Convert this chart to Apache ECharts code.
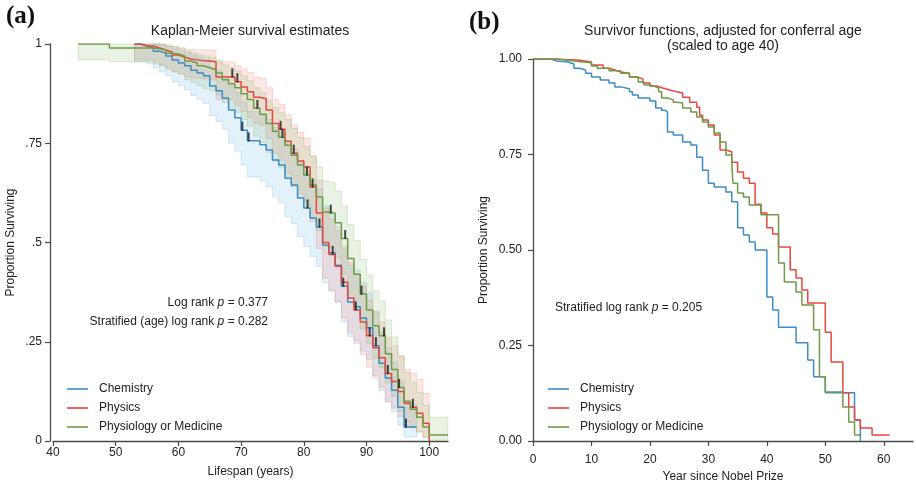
<!DOCTYPE html>
<html lang="en">
<head>
  <meta charset="UTF-8">
  <title>Survival of Nobel laureates</title>
  <script src="https://cdn.jsdelivr.net/npm/echarts@6/dist/echarts.min.js"></script>
  <style>html, body { margin: 0; background: #fff; }</style>
</head>
<body>
  <div id="chart" style="width: 916px; height: 483px;"></div>

  <script>
    // ---- (a) Kaplan-Meier by lifespan (age in years) ----
    var chemAge = [53,54,55,56,57,58,59,60,61,62,63,64,65,66,67,68,69,70,71,72,73,74,75,76,77,78,79,80,81,82,83,84,85,86,87,88,89,90,91,92,93,94,95,96,97,98];
    var chemSurv = [1,.995,.99,.982,.977,.97,.96,.952,.945,.934,
                    .927,.92,.894,.882,.864,.834,.814,.783,.756,.756,
                    .746,.733,.708,.695,.662,.645,.612,.587,.562,.539,
                    .494,.474,.443,.39,.35,.338,.31,.285,.24,.196,
                    .159,.128,.085,.035,.035,.035];
    var chemLo = [.955,.955,.95,.94,.93,.92,.905,.895,.885,.87,
                  .86,.85,.82,.805,.785,.75,.73,.695,.665,.665,
                  .655,.64,.615,.60,.565,.548,.515,.49,.465,.44,
                  .398,.378,.35,.30,.263,.252,.227,.205,.165,.128,
                  .098,.073,.04,.01,.01,.01];
    var chemHi = [1,1,1,1,.997,.993,.988,.983,.978,.972,
                  .967,.962,.942,.933,.918,.895,.878,.853,.83,.83,
                  .82,.81,.79,.78,.75,.735,.705,.68,.657,.635,
                  .592,.572,.54,.485,.443,.43,.40,.373,.325,.275,
                  .235,.198,.15,.092,.092,.092];
    var chemCens = [70.2, 71.2, 80.6, 82.5, 86.3, 91.5, 96.3];

    var physAge = [53,54,55,56,57,58,59,60,61,62,63,64,65,66,67,68,69,70,71,72,73,74,75,76,77,78,79,80,81,82,83,84,85,86,87,88,89,90,91,92,93,94,95,96,97,98,99,100];
    var physSurv = [1,.995,.995,.99,.985,.98,.972,.967,.962,.96,
                    .958,.957,.955,.917,.917,.917,.905,.892,.88,.866,
                    .862,.834,.80,.785,.755,.725,.705,.69,.64,.574,
                    .50,.47,.44,.40,.36,.33,.30,.265,.235,.21,
                    .17,.15,.125,.095,.085,.07,.045,0];
    var physLo = [.96,.96,.96,.955,.948,.94,.93,.925,.918,.915,
                  .913,.912,.91,.86,.86,.86,.845,.83,.815,.80,
                  .795,.762,.725,.708,.675,.643,.622,.605,.553,.485,
                  .41,.38,.35,.31,.272,.245,.218,.186,.158,.135,
                  .10,.083,.062,.04,.033,.024,.01,0];
    var physHi = [1,1,1,1,1,.998,.993,.99,.987,.986,
                  .985,.985,.984,.955,.955,.955,.945,.937,.928,.917,
                  .913,.89,.86,.848,.822,.795,.777,.763,.718,.657,
                  .587,.558,.53,.49,.45,.42,.39,.355,.327,.30,
                  .26,.24,.215,.18,.17,.155,.12,0];
    var physCens = [68.6, 69.4, 76.3, 78.4, 81.4, 84.6, 88.3, 90.5, 93.4, 97.4];

    var medAge = [44,45,46,47,48,49,50,51,52,53,54,55,56,57,58,59,60,61,62,63,64,65,66,67,68,69,70,71,72,73,74,75,76,77,78,79,80,81,82,83,84,85,86,87,88,89,90,91,92,93,94,95,96,97,98,99,100,101,102,103];
    var medSurv = [1,1,1,1,1,.99,.99,.99,.99,.99,
                   .99,.99,.988,.985,.977,.975,.97,.957,.952,.945,
                   .94,.935,.927,.91,.90,.89,.875,.86,.838,.823,
                   .80,.78,.765,.745,.72,.695,.67,.645,.615,.577,
                   .574,.55,.51,.46,.42,.37,.33,.29,.265,.22,
                   .18,.135,.10,.08,.06,.035,.015,.015,.015,.015];
    var medLo = [.96,.96,.96,.96,.96,.955,.955,.955,.955,.955,
                 .955,.955,.95,.945,.935,.93,.925,.91,.903,.895,
                 .888,.882,.872,.852,.84,.828,.81,.793,.768,.752,
                 .727,.705,.688,.666,.64,.613,.587,.56,.53,.49,
                 .487,.462,.42,.37,.33,.282,.245,.208,.185,.146,
                 .112,.075,.048,.034,.022,.008,.002,.002,.002,.002];
    var medHi = [1,1,1,1,1,1,1,1,1,1,
                 1,1,1,1,.995,.994,.99,.982,.978,.973,
                 .97,.966,.96,.947,.94,.932,.92,.908,.89,.877,
                 .857,.84,.827,.81,.787,.765,.742,.718,.69,.655,
                 .652,.63,.592,.545,.505,.457,.418,.378,.352,.305,
                 .262,.213,.172,.148,.122,.09,.06,.06,.06,.06];
    var medCens = [72.6, 76.6, 80.5, 84.3, 86.6, 89.2, 92.8, 95.2];

    // ---- (b) adjusted survivor functions, years since prize ----
    var chemYr = [0,3,4,6,7,8,9,10,11.5,13,14,15,16.5,17,18,20,21,22,22.6,23,24,25.6,27,28,29,30,31,33,34,35,36,37,38,40,41,42,45,47,48,50,55,56];
    var chemAdj = [1,.995,.992,.987,.976,.971,.963,.953,.945,.937,
                   .927,.922,.914,.906,.898,.89,.872,.866,.861,.809,
                   .801,.783,.775,.743,.709,.675,.665,.652,.626,.558,
                   .539,.521,.50,.377,.343,.298,.257,.212,.168,.126,
                   .055,0];
    var physYr = [0,4,8,10,12,13,14,15,16.5,17.8,18.8,20,21.2,22.2,23.4,24.6,25.6,26.8,28,28.5,29,30,31,32,33,34,35,36,37,38,39,40,41,42,44,45,46,47,50,51,53,54,55,56,58,61];
    var physAdj = [1,.997,.992,.984,.976,.971,.966,.963,.953,.948,
                   .937,.929,.924,.919,.914,.911,.90,.887,.874,.853,
                   .84,.827,.801,.762,.757,.73,.704,.688,.675,.62,
                   .597,.558,.542,.508,.448,.427,.395,.361,.285,.207,
                   .126,.089,.055,.034,.016,.016];
    var medYr = [0,4,6,8.5,10,11,13,15,16.5,18,19,20,21,21.5,22,23,24,24.6,25.6,27,28,29,30,31,32,33,34,34.2,35,36,37,39,42,43,45,46,48,49,50,53,54,55,56];
    var medAdj = [1,.997,.992,.99,.982,.976,.969,.963,.953,.94,
                  .932,.927,.924,.914,.898,.893,.887,.885,.872,.861,
                  .848,.835,.822,.806,.783,.749,.728,.675,.649,.639,
                  .618,.592,.466,.416,.39,.356,.291,.168,.128,.089,
                  .05,.016,.016];

    var groups = ['Chemistry', 'Physics', 'Physiology or Medicine'];
    var lifeTicks = [40, 50, 60, 70, 80, 90, 100];
    var yearTicks = [0, 10, 20, 30, 40, 50, 60];

    var FONT = '"Liberation Sans", Arial, sans-serif';
    var colChem = '#3a8dc8', colPhys = '#e5483a', colMed = '#6e9c47';

    function pairs(xs, ys) {
      return xs.map(function (x, i) { return [x, ys[i]]; });
    }

    // value of a step function at x
    function survAt(xs, ys, x) {
      var v = ys[0];
      for (var i = 0; i < xs.length; i++) { if (xs[i] <= x) v = ys[i]; }
      return v;
    }

    function band(xs, lo, hi, fill, edge) {
      return {
        type: 'custom', xAxisIndex: 0, yAxisIndex: 0, silent: true, z: 1,
        data: [[xs[0], lo[0]]],
        renderItem: function (params, api) {
          var pts = [];
          for (var i = 0; i < xs.length - 1; i++) {
            pts.push(api.coord([xs[i], hi[i]]));
            pts.push(api.coord([xs[i + 1], hi[i]]));
          }
          for (var j = xs.length - 2; j >= 0; j--) {
            pts.push(api.coord([xs[j + 1], lo[j]]));
            pts.push(api.coord([xs[j], lo[j]]));
          }
          return { type: 'polygon', shape: { points: pts }, style: { fill: fill, stroke: edge, lineWidth: 0.8 } };
        }
      };
    }

    function stepLine(name, data, color, idx) {
      return {
        name: name, type: 'line', step: 'end', symbol: 'none', z: 3,
        xAxisIndex: idx, yAxisIndex: idx, data: data,
        lineStyle: { color: color, width: 1.5 }, itemStyle: { color: color }
      };
    }

    function censors(xs, ys, ages) {
      return {
        type: 'scatter', xAxisIndex: 0, yAxisIndex: 0, z: 4, silent: true,
        symbol: 'rect', symbolSize: [2, 9], symbolOffset: [0, -4],
        itemStyle: { color: '#1a1a1a' },
        data: ages.map(function (a) { return [a, survAt(xs, ys, a)]; })
      };
    }

    var axisTxt = { color: '#222', fontSize: 12, fontFamily: FONT };
    var axisLn = { lineStyle: { color: '#4a4a4a', width: 1.3 } };
    var tickLn = { length: 5, lineStyle: { color: '#4a4a4a', width: 1.2 } };

    var legendBase = {
      top: 378, orient: 'vertical', data: groups, selectedMode: false,
      icon: 'rect', itemWidth: 21, itemHeight: 1.6, itemGap: 7,
      textStyle: Object.assign({ padding: [0, 0, 0, 6] }, axisTxt)
    };

    var myChart = echarts.init(document.getElementById('chart'));

    myChart.setOption({
      animation: false,
      backgroundColor: '#fff',
      grid: [
        { left: 53, top: 44, width: 395, height: 397, containLabel: false, outerBoundsMode: 'none' },
        { left: 533, top: 59, width: 380, height: 382, containLabel: false, outerBoundsMode: 'none' }
      ],
      xAxis: [
        {
          type: 'value', gridIndex: 0, min: 40, max: 103, interval: 10, offset: 2,
          axisLine: axisLn, splitLine: { show: false },
          axisTick: Object.assign({ customValues: lifeTicks }, tickLn),
          axisLabel: Object.assign({ customValues: lifeTicks, margin: 4 }, axisTxt),
          name: 'Lifespan (years)', nameLocation: 'middle', nameGap: 23, nameTextStyle: axisTxt
        },
        {
          type: 'value', gridIndex: 1, min: 0, max: 65, interval: 10, offset: 3,
          axisLine: axisLn, splitLine: { show: false },
          axisTick: Object.assign({ customValues: yearTicks }, tickLn),
          axisLabel: Object.assign({ customValues: yearTicks, margin: 10 }, axisTxt),
          name: 'Year since Nobel Prize', nameLocation: 'middle', nameGap: 21, nameTextStyle: axisTxt
        }
      ],
      yAxis: [
        {
          type: 'value', gridIndex: 0, min: 0, max: 1, interval: 0.25, offset: 3,
          axisLine: axisLn, axisTick: tickLn, splitLine: { show: false },
          axisLabel: Object.assign({
            margin: 8,
            formatter: function (v) { return v === 0 || v === 1 ? String(v) : String(v).replace(/^0/, ''); }
          }, axisTxt),
          name: 'Proportion Surviving', nameLocation: 'middle', nameGap: 33, nameTextStyle: axisTxt
        },
        {
          type: 'value', gridIndex: 1, min: 0, max: 1, interval: 0.25, offset: 3,
          axisLine: axisLn, axisTick: tickLn, splitLine: { show: false },
          axisLabel: Object.assign({
            margin: 8,
            formatter: function (v) { return v.toFixed(2); }
          }, axisTxt),
          name: 'Proportion Surviving', nameLocation: 'middle', nameGap: 40, nameTextStyle: axisTxt
        }
      ],
      legend: [
        Object.assign({ left: 62 }, legendBase),
        Object.assign({ left: 543 }, legendBase)
      ],
      graphic: [
        { type: 'text', left: 6, top: 4, style: { text: '(a)', font: 'bold 25px "Liberation Serif", serif', fill: '#111' } },
        { type: 'text', left: 469, top: 10, style: { text: '(b)', font: 'bold 25px "Liberation Serif", serif', fill: '#111' } },
        { type: 'text', x: 250, y: 31, style: { text: 'Kaplan-Meier survival estimates', align: 'center', verticalAlign: 'middle', font: '14px ' + FONT, fill: '#222' } },
        { type: 'text', x: 723, y: 31, style: { text: 'Survivor functions, adjusted for conferral age', align: 'center', verticalAlign: 'middle', font: '14px ' + FONT, fill: '#222' } },
        { type: 'text', x: 723, y: 46, style: { text: '(scaled to age 40)', align: 'center', verticalAlign: 'middle', font: '14px ' + FONT, fill: '#222' } },
        { type: 'text', x: 268, y: 303, style: {
            text: 'Log rank {it|p} = 0.377', align: 'right', verticalAlign: 'middle', font: '12px ' + FONT, fill: '#222',
            rich: { it: { fontStyle: 'italic', fontSize: 12, fontFamily: FONT, fill: '#222' } } } },
        { type: 'text', x: 268, y: 322, style: {
            text: 'Stratified (age) log rank {it|p} = 0.282', align: 'right', verticalAlign: 'middle', font: '12px ' + FONT, fill: '#222',
            rich: { it: { fontStyle: 'italic', fontSize: 12, fontFamily: FONT, fill: '#222' } } } },
        { type: 'text', x: 555, y: 308, style: {
            text: 'Stratified log rank {it|p} = 0.205', align: 'left', verticalAlign: 'middle', font: '12px ' + FONT, fill: '#222',
            rich: { it: { fontStyle: 'italic', fontSize: 12, fontFamily: FONT, fill: '#222' } } } }
      ],
      series: [
        band(chemAge, chemLo, chemHi, 'rgba(110,185,230,0.20)', 'rgba(110,185,230,0.35)'),
        band(physAge, physLo, physHi, 'rgba(245,120,105,0.18)', 'rgba(245,120,105,0.32)'),
        band(medAge, medLo, medHi, 'rgba(125,180,95,0.17)', 'rgba(125,180,95,0.32)'),
        stepLine('Chemistry', pairs(chemAge, chemSurv), colChem, 0),
        stepLine('Physics', pairs(physAge, physSurv), colPhys, 0),
        stepLine('Physiology or Medicine', pairs(medAge, medSurv), colMed, 0),
        censors(chemAge, chemSurv, chemCens),
        censors(physAge, physSurv, physCens),
        censors(medAge, medSurv, medCens),
        stepLine('Chemistry', pairs(chemYr, chemAdj), colChem, 1),
        stepLine('Physics', pairs(physYr, physAdj), colPhys, 1),
        stepLine('Physiology or Medicine', pairs(medYr, medAdj), colMed, 1)
      ]
    });
  </script>
</body>
</html>
